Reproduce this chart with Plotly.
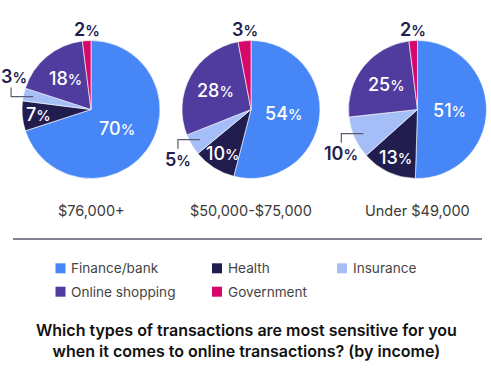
import math
import plotly.graph_objects as go

# ---- data ----
categories = ["Finance/bank", "Health", "Insurance", "Online shopping", "Government"]
colors = ["#4686F6", "#211E4F", "#A5BEF7", "#4F3C9E", "#D7086B"]
groups = ["$76,000+", "$50,000-$75,000", "Under $49,000"]
share_76k = [70, 7, 3, 18, 2]
share_50k = [54, 10, 5, 28, 3]
share_49k = [51, 13, 10, 25, 2]
title_text = ("Which types of transactions are most sensitive for you<br>"
              "when it comes to online transactions? (by income)")

# ---- layout constants (pixels) ----
W, H = 491, 375
FONT = "Inter"
DARK = "#211E4F"
series = [share_76k, share_50k, share_49k]
centers_x = [91, 251, 417.5]
CY = 109.5
R = 69
# label placement style per category: ("in", radius factor) / ("leader",) / ("top",)
label_style = [("in", 0.47), ("in", 0.76), ("leader",), ("in", 0.58), ("top",)]


def fx(x):
    return x / W


def fy(y):
    return 1 - y / H


def pct(v):
    return f"{v}<span style='font-size:14.5px'>%</span>"


fig = go.Figure()
for vals, cx, grp in zip(series, centers_x, groups):
    fig.add_trace(go.Pie(
        labels=categories, values=vals, name=grp,
        sort=False, direction="clockwise", rotation=0,
        marker=dict(colors=colors, line=dict(color="white", width=0.6)),
        textinfo="none",
        domain=dict(x=[fx(cx - R), fx(cx + R)], y=[fy(CY + R), fy(CY - R)]),
        showlegend=False,
        hovertemplate="%{label}: %{value}%<extra>" + grp + "</extra>",
    ))

    # value labels, placed from each slice's mid-angle
    total = sum(vals)
    start = 0.0
    for v, style in zip(vals, label_style):
        span = 360.0 * v / total
        mid = math.radians(start + span / 2)
        start += span
        s, c = math.sin(mid), math.cos(mid)
        if style[0] == "in":
            rr = style[1] * R
            fig.add_annotation(x=fx(cx + rr * s), y=fy(CY - rr * c),
                               xref="paper", yref="paper", text=pct(v),
                               showarrow=False, xanchor="center", yanchor="middle",
                               font=dict(size=18, color="white", family=FONT, weight=500))
        elif style[0] == "top":
            fig.add_annotation(x=fx(cx + R * s), y=fy(CY - R * c - 11),
                               xref="paper", yref="paper", text=pct(v),
                               showarrow=False, xanchor="center", yanchor="middle",
                               font=dict(size=18, color=DARK, family=FONT, weight=600))
        else:
            sx, sy = cx + 0.86 * R * s, CY - 0.86 * R * c
            hx = sx + (22 if s > 0 else -22)
            vdir = -1 if c > 0 else 1
            vy = sy + vdir * 9
            fig.add_shape(type="path", xref="paper", yref="paper",
                          path=f"M {fx(sx)},{fy(sy)} L {fx(hx)},{fy(sy)} L {fx(hx)},{fy(vy)}",
                          line=dict(color="#5A5D70", width=1.2))
            fig.add_annotation(x=fx(max(hx, 14)), y=fy(vy + vdir * 11),
                               xref="paper", yref="paper", text=pct(v),
                               showarrow=False, xanchor="center", yanchor="middle",
                               font=dict(size=18, color=DARK, family=FONT, weight=600))

    # group caption
    fig.add_annotation(x=fx(cx), y=fy(210), xref="paper", yref="paper",
                       text=grp, showarrow=False, xanchor="center", yanchor="middle",
                       font=dict(size=14.5, color="#3A3A3A", family=FONT))

# separator line
fig.add_shape(type="line", xref="paper", yref="paper",
              x0=fx(13), x1=fx(482), y0=fy(239), y1=fy(239),
              line=dict(color="#555A6E", width=1.5))

# legend (grid of colour keys)
col_x = [55.5, 212, 337]
row_y = [268.3, 291.7]
slots = [(0, 0), (1, 0), (2, 0), (0, 1), (1, 1)]
for cat, col, (ci, ri) in zip(categories, colors, slots):
    x0, yc = col_x[ci], row_y[ri]
    fig.add_shape(type="rect", xref="paper", yref="paper",
                  x0=fx(x0), x1=fx(x0 + 10), y0=fy(yc + 5), y1=fy(yc - 5),
                  fillcolor=col, line=dict(width=0))
    fig.add_annotation(x=fx(x0 + 13.5), y=fy(yc), xref="paper", yref="paper",
                       text=cat, showarrow=False, xanchor="left", yanchor="middle",
                       font=dict(size=13.6, color="#444444", family=FONT))

# bottom title
fig.add_annotation(x=fx(246.5), y=fy(340.5), xref="paper", yref="paper",
                   text=title_text, showarrow=False, align="center",
                   xanchor="center", yanchor="middle",
                   font=dict(size=16, color="#111111", family=FONT, weight=600))

fig.update_layout(width=W, height=H, margin=dict(l=0, r=0, t=0, b=0),
                  paper_bgcolor="white", plot_bgcolor="white", showlegend=False)
fig.write_html("out.html", config={"displayModeBar": False},
               post_script="document.body.style.margin='0px';")
